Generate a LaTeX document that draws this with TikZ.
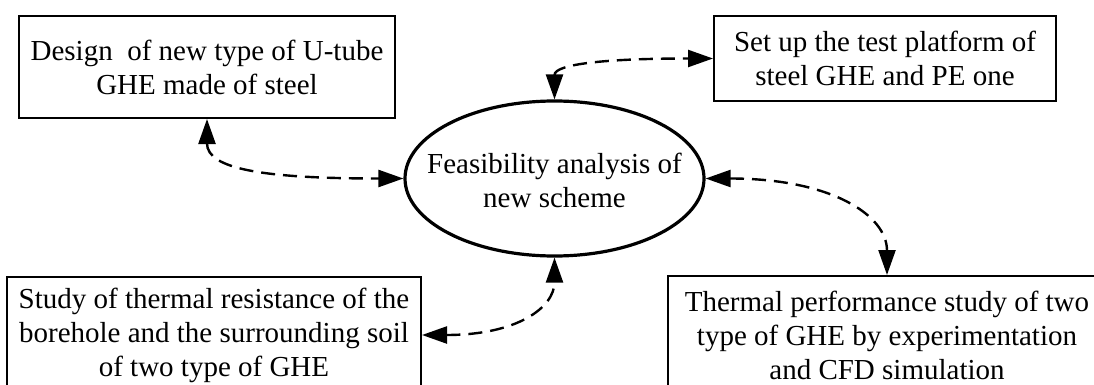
\documentclass[tikz,border=0pt]{standalone}
\usepackage{fontspec}
\setmainfont{Liberation Serif}
\usetikzlibrary{shapes.geometric,arrows.meta}
\begin{document}
\begin{tikzpicture}[x=1pt,y=-1pt,
  txt/.style={align=center,font=\fontsize{29}{34}\selectfont},
  box/.style={txt,draw,line width=2pt,rectangle,inner sep=0pt},
  oval/.style={draw,line width=3.2pt,ellipse,inner sep=0pt},
  link/.style={line width=2.4pt,dash pattern=on 14pt off 8pt,
    {Triangle[length=25pt,width=17pt]}-{Triangle[length=25pt,width=17pt]}}]
\useasboundingbox (0,0) rectangle (1094,385);
\clip (0,0) rectangle (1094,385);
\node[box,minimum width=376pt,minimum height=102pt] (b1) at (207,67)
  {Design\ \ of new type of U-tube\\GHE made of steel};
\node[box,minimum width=342pt,minimum height=85pt] (b2) at (885,58.5)
  {Set up the test platform of\\steel GHE and PE one};
\node[box,minimum width=414pt,minimum height=116pt] (b3) at (214,335)
  {Study of thermal resistance of the\\borehole and the surrounding soil\\of two type of GHE};
\node[box,minimum width=438pt,minimum height=118pt] (b4) at (887,335)
  {Thermal performance study of two\\type of GHE by experimentation\\and CFD simulation};
\node[oval,minimum width=299pt,minimum height=155pt,
  label={[txt,yshift=-1.5pt]center:Feasibility analysis of\\new scheme}] (e) at (554.5,178.5) {};
\draw[link] (b1.south) .. controls ([yshift=-50pt]b1.south) and ([xshift=-140pt]e.west) .. (e.west);
\draw[link] (e.north) .. controls ([yshift=35pt]e.north) and ([xshift=-110pt]b2.west) .. (b2.west);
\draw[link] (e.east) .. controls ([xshift=125pt]e.east) and ([yshift=60pt]b4.north) .. (b4.north);
\draw[link] (b3.east) .. controls ([xshift=95pt]b3.east) and ([yshift=-50pt]e.south) .. (e.south);
\end{tikzpicture}
\end{document}
